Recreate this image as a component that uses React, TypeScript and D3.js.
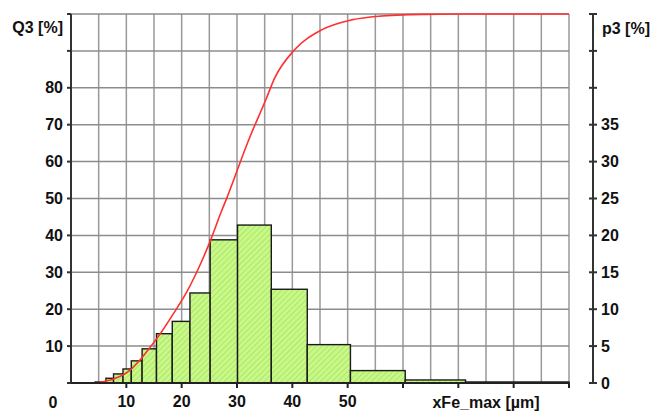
import React from "react";
import * as d3 from "d3";

// histogram classes (µm) and p3 values [%]
const binEdges = [4.36, 6.31, 7.69, 9.4, 10.9, 12.85, 15.45, 18.3, 21.5, 25.15, 30.1, 36.2, 42.7, 50.5, 60.4, 71.3, 90];
const p3Values = [0.14, 0.64, 1.23, 1.9, 3.0, 4.63, 6.68, 8.35, 12.2, 19.4, 21.4, 12.7, 5.2, 1.68, 0.41, 0.14];

// cumulative curve Q3 [%]
const cumX = [0, 4, 7.1, 10.7, 12.5, 14.4, 16.2, 18.6, 21.0, 23.5, 25.3, 27.1, 28.1, 32.2, 35.3, 36.8, 40.4, 45.3, 50.7, 55.6, 63.5, 70, 90];
const cumQ3 = [0, 0, 0.8, 3.5, 6.3, 9.9, 13.5, 19.0, 24.9, 32.6, 39.0, 46.2, 49.9, 66.2, 77.1, 82.6, 90.3, 95.7, 98.4, 99.4, 99.9, 100, 100];

const xTickLabels = [10, 20, 30, 40, 50];
const q3TickLabels = [10, 20, 30, 40, 50, 60, 70, 80];
const p3TickLabels = [0, 5, 10, 15, 20, 25, 30, 35];

const W = 652;
const H = 412;
const left = 71, right = 569, top = 14, bottom = 383;
const rightAxisX = 593;
const font = "'Liberation Sans', Arial, sans-serif";

export default function App() {
  const x = d3.scaleLinear().domain([0, 90]).range([left, right]);
  const yQ = d3.scaleLinear().domain([0, 100]).range([bottom, top]);
  const yP = d3.scaleLinear().domain([0, 50]).range([bottom, top]);

  const line = d3
    .line<number>()
    .x((d, i) => x(cumX[i]))
    .y((d) => yQ(d))
    .curve(d3.curveMonotoneX);

  const vGrid = d3.range(0, 91, 5);
  const hGrid = d3.range(0, 101, 10);
  const xTicks = d3.range(10, 91, 10);
  const pTicks = d3.range(0, 51, 5);

  const txt = { fontFamily: font, fontSize: 16, fontWeight: "bold" as const, fill: "#111" };

  return (
    <svg width={W} height={H} style={{ position: "absolute", left: 0, top: 0, background: "#fff" }}>
      <defs>
        <pattern id="hatch" patternUnits="userSpaceOnUse" width="4" height="4" patternTransform="rotate(45)">
          <rect width="4" height="4" fill="#c8f888" />
          <line x1="0" y1="0" x2="0" y2="4" stroke="#9cdc56" strokeWidth="1.2" />
        </pattern>
      </defs>

      {/* grid */}
      {vGrid.map((v) => (
        <line key={"v" + v} x1={x(v)} x2={x(v)} y1={top} y2={bottom} stroke="#999" strokeWidth={1.5} />
      ))}
      {hGrid.map((v) => (
        <line key={"h" + v} x1={left} x2={right} y1={yQ(v)} y2={yQ(v)} stroke="#8c8c8c" strokeWidth={1.5} />
      ))}

      {/* histogram */}
      {p3Values.map((v, i) => (
        <rect
          key={"b" + i}
          x={x(binEdges[i])}
          y={yP(v)}
          width={x(binEdges[i + 1]) - x(binEdges[i])}
          height={yP(0) - yP(v)}
          fill="url(#hatch)"
          stroke="#1a1a1a"
          strokeWidth={1.4}
        />
      ))}

      {/* cumulative curve */}
      <path d={line(cumQ3) || ""} fill="none" stroke="#ff3030" strokeWidth={1.6} />

      {/* left axis */}
      <line x1={left} x2={left} y1={top} y2={bottom} stroke="#333" strokeWidth={2} />
      {hGrid.map((v) => (
        <line key={"lt" + v} x1={left - 4} x2={left} y1={yQ(v)} y2={yQ(v)} stroke="#333" strokeWidth={2} />
      ))}
      {q3TickLabels.map((v) => (
        <text key={"ql" + v} x={63} y={yQ(v)} dy="0.35em" textAnchor="end" {...txt}>
          {v}
        </text>
      ))}
      <text x={63} y={27} dy="0.35em" textAnchor="end" {...txt}>
        Q3 [%]
      </text>
      <text x={53} y={402} dy="0.35em" textAnchor="middle" {...txt}>
        0
      </text>

      {/* bottom axis */}
      <line x1={left} x2={right} y1={bottom} y2={bottom} stroke="#222" strokeWidth={2.2} />
      {xTicks.map((v) => (
        <line key={"xt" + v} x1={x(v)} x2={x(v)} y1={bottom} y2={bottom + 5} stroke="#222" strokeWidth={2} />
      ))}
      {xTickLabels.map((v) => (
        <text key={"xl" + v} x={x(v)} y={401} dy="0.35em" textAnchor="middle" {...txt}>
          {v}
        </text>
      ))}
      <text x={486} y={402} dy="0.35em" textAnchor="middle" {...txt}>
        xFe_max [µm]
      </text>

      {/* right axis */}
      <line x1={rightAxisX} x2={rightAxisX} y1={top} y2={bottom} stroke="#333" strokeWidth={2} />
      {pTicks.map((v) => (
        <line key={"pt" + v} x1={rightAxisX - 4} x2={rightAxisX + 4} y1={yP(v)} y2={yP(v)} stroke="#333" strokeWidth={2} />
      ))}
      {p3TickLabels.map((v) => (
        <text key={"pl" + v} x={601} y={yP(v)} dy="0.35em" textAnchor="start" {...txt}>
          {v}
        </text>
      ))}
      <text x={602} y={28} dy="0.35em" textAnchor="start" {...txt}>
        p3 [%]
      </text>
    </svg>
  );
}
